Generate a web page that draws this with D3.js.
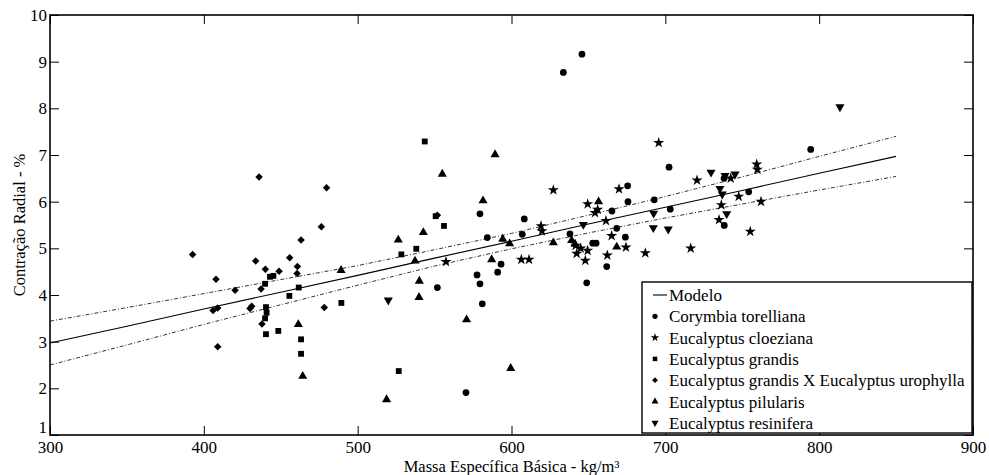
<!DOCTYPE html>
<html>
<head>
<meta charset="utf-8">
<script src="https://cdn.jsdelivr.net/npm/d3@7"></script>
<style>
  html, body { margin: 0; padding: 0; background: #fff; }
  svg { display: block; font-family: "Liberation Serif", "Times New Roman", serif; }
  text { fill: #000; }
</style>
</head>
<body>
<svg id="chart" width="989" height="475"></svg>
<script>
// ---------- data ----------
const xTicks = [300, 400, 500, 600, 700, 800, 900];
const yTicks = [1, 2, 3, 4, 5, 6, 7, 8, 9, 10];
const xTitle = "Massa Específica Básica - kg/m³";
const yTitle = "Contração Radial - %";

const seriesNames = [
  "Corymbia torelliana",
  "Eucalyptus cloeziana",
  "Eucalyptus grandis",
  "Eucalyptus grandis X Eucalyptus urophylla",
  "Eucalyptus pilularis",
  "Eucalyptus resinifera"
];

const corymbia = [[579.5,5.74],[584.3,5.23],[593.2,4.66],[591,4.49],[577.6,4.43],[579.5,4.24],[551.8,4.16],[581,3.81],[570.4,1.91],
  [645.8,9.16],[633.7,8.77],[702.4,6.74],[675.5,6.34],[675.7,6.00],[692.8,6.04],[665.3,5.80],[703.2,5.84],[608.3,5.63],[668.4,5.43],
  [607,5.30],[638,5.31],[674,5.24],[652.8,5.11],[655,5.11],[661.9,4.61],[648.9,4.26],[794.5,7.12],[754.2,6.21],[738.2,6.50],[738.3,5.49]];
const cloeziana = [[557.4,4.71],[695.7,7.26],[627.2,6.25],[669.9,6.27],[649.5,5.95],[656,5.83],[654.3,5.76],[661.4,5.59],[619.2,5.48],
  [619.8,5.37],[665.1,5.27],[674.4,5.02],[645,5.00],[641.7,5.06],[649.5,4.95],[642.4,4.89],[687,4.90],[662.3,4.85],[606.4,4.76],
  [611.4,4.76],[648,4.74],[759.4,6.80],[759.8,6.69],[720.6,6.46],[742.5,6.50],[747.7,6.11],[736.4,5.93],[762.2,6.00],[734.9,5.61],
  [755.2,5.36],[716.5,5.00]];
const grandis = [[443,4.39],[445.2,4.41],[439.8,4.24],[461.7,4.16],[455.6,3.98],[489.4,3.83],[440.4,3.74],[440.8,3.62],[439.8,3.50],
  [440.4,3.16],[448.4,3.23],[463.2,3.05],[463.2,2.74],[543.6,7.29],[550.7,5.69],[556.1,5.48],[538.1,4.99],[528.4,4.87],[526.7,2.37]];
const grandisUrophylla = [[435.9,6.53],[479.8,6.30],[392.7,4.87],[476.4,5.46],[463.2,5.18],[433.7,4.73],[455.8,4.80],[407.9,4.34],
  [440,4.55],[448.9,4.51],[460.8,4.61],[460.6,4.46],[420.3,4.10],[437.2,4.13],[406,3.67],[409,3.72],[430,3.71],[431.1,3.76],
  [437.8,3.38],[478.3,3.73],[409,2.89],[551.8,5.71]];
const pilularis = [[489.2,4.53],[461.4,3.37],[464.3,2.26],[589.3,7.01],[555,6.59],[581.5,6.02],[542.7,5.34],[526.4,5.18],[594.3,5.20],
  [598.8,5.10],[537.3,4.73],[587.1,4.76],[540.1,4.30],[539.9,3.95],[570.8,3.47],[599.5,2.43],[518.8,1.76],[656.6,6.00],[627.2,5.12],
  [639.1,5.17],[641.3,5.09],[668.4,5.03]];
const resinifera = [[519.9,3.89],[646.7,5.51],[692.4,5.75],[692.2,5.44],[701.9,5.41],[813.5,8.03],[729.7,6.63],[738.8,6.56],
  [745.3,6.59],[735.5,6.28],[737,6.16],[739.9,5.74]];

// Model line and confidence band
const bandX     = [300, 350, 400, 450, 500, 550, 600, 650, 700, 750, 800, 850];
const modelY    = [2.97, 3.33, 3.70, 4.06, 4.42, 4.79, 5.15, 5.52, 5.88, 6.24, 6.61, 6.97];
const upperY    = [3.44, 3.73, 4.03, 4.33, 4.63, 4.97, 5.32, 5.71, 6.11, 6.53, 6.97, 7.40];
const lowerY    = [2.50, 2.93, 3.37, 3.79, 4.21, 4.62, 4.99, 5.33, 5.65, 5.95, 6.25, 6.54];

(function draw() {
  const svg = d3.select("#chart");
  const mLeft = 50, mRight = 973, mTop = 15, mBottom = 435;
  const x = d3.scaleLinear().domain([300, 900]).range([mLeft, mRight]);
  const y = d3.scaleLinear().domain([1, 10]).range([mBottom, mTop]);

  // model and band
  const line = d3.line().x(d => x(d[0])).y(d => y(d[1]));
  const zipXY = ys => bandX.map((v, i) => [v, ys[i]]);
  svg.append("path").attr("d", line(zipXY(upperY))).attr("fill", "none")
    .attr("stroke", "#000").attr("stroke-width", 0.8).attr("stroke-dasharray", "4,2,1,2");
  svg.append("path").attr("d", line(zipXY(lowerY))).attr("fill", "none")
    .attr("stroke", "#000").attr("stroke-width", 0.8).attr("stroke-dasharray", "4,2,1,2");
  svg.append("path").attr("d", line(zipXY(modelY))).attr("fill", "none")
    .attr("stroke", "#000").attr("stroke-width", 1.1);

  // symbols
  const diamondType = d3.symbolDiamond2 || d3.symbolDiamond;
  const symbolDefs = [
    { type: d3.symbolCircle, size: 36, rot: 0 },
    { type: d3.symbolStar, size: 38, rot: 0 },
    { type: d3.symbolSquare, size: 34, rot: 0 },
    { type: diamondType, size: 36, rot: 0 },
    { type: d3.symbolTriangle, size: 36, rot: 0 },
    { type: d3.symbolTriangle, size: 36, rot: 180 }
  ];
  const allSeries = [corymbia, cloeziana, grandis, grandisUrophylla, pilularis, resinifera];

  allSeries.forEach((data, i) => {
    const def = symbolDefs[i];
    const sym = d3.symbol().type(def.type).size(def.size);
    svg.append("g").selectAll("path").data(data).join("path")
      .attr("d", sym)
      .attr("transform", d => `translate(${x(d[0])},${y(d[1])}) rotate(${def.rot})`)
      .attr("fill", "#000");
  });

  // axes (inward ticks, MATLAB style)
  const fontSize = 17;
  const gx = svg.append("g").attr("transform", `translate(0,${mBottom})`)
    .call(d3.axisBottom(x).tickValues(xTicks).tickSizeInner(-9).tickSizeOuter(0).tickPadding(6).tickFormat(d3.format("d")));
  const gy = svg.append("g").attr("transform", `translate(${mLeft},0)`)
    .call(d3.axisLeft(y).tickValues(yTicks).tickSizeInner(-9).tickSizeOuter(0).tickPadding(3).tickFormat(d3.format("d")));
  const gt = svg.append("g").attr("transform", `translate(0,${mTop})`)
    .call(d3.axisTop(x).tickValues(xTicks).tickSizeInner(-9).tickSizeOuter(0).tickFormat(""));
  const gr = svg.append("g").attr("transform", `translate(${mRight},0)`)
    .call(d3.axisRight(y).tickValues(yTicks).tickSizeInner(-9).tickSizeOuter(0).tickFormat(""));
  [gx, gy, gt, gr].forEach(g => {
    g.select(".domain").remove();
    g.selectAll("line").attr("stroke", "#000").attr("stroke-width", 1);
    g.selectAll("text").attr("fill", "#000")
      .style("font-family", "'Liberation Serif', 'Times New Roman', serif")
      .style("font-size", fontSize + "px");
  });
  // lift the lowest y label so it sits just above "300" without overlapping it
  gy.selectAll(".tick").filter(d => d === 1).select("text").attr("dy", "-0.12em");

  // frame
  svg.append("rect").attr("x", mLeft).attr("y", mTop)
    .attr("width", mRight - mLeft).attr("height", mBottom - mTop)
    .attr("fill", "none").attr("stroke", "#000").attr("stroke-width", 1.6);

  // axis titles
  svg.append("text").attr("x", (mLeft + mRight) / 2).attr("y", 472)
    .attr("text-anchor", "middle").attr("fill", "#000").style("font-size", "16.5px").text(xTitle);
  svg.append("text").attr("transform", `translate(25,${(mTop + mBottom) / 2}) rotate(-90)`)
    .attr("text-anchor", "middle").attr("fill", "#000").style("font-size", "16.5px").text(yTitle);

  // legend
  const lg = svg.append("g");
  lg.append("rect").attr("x", 642).attr("y", 282).attr("width", 330).attr("height", 151)
    .attr("fill", "#fff").attr("stroke", "#000").attr("stroke-width", 1.4);
  const rowY = i => 295 + i * 21.3;
  lg.append("line").attr("x1", 653).attr("x2", 667).attr("y1", rowY(0)).attr("y2", rowY(0))
    .attr("stroke", "#000").attr("stroke-width", 1.1);
  lg.append("text").attr("x", 669).attr("y", rowY(0) + 6).attr("fill", "#000").style("font-size", "17px").text("Modelo");
  seriesNames.forEach((name, i) => {
    const def = symbolDefs[i];
    lg.append("path").attr("d", d3.symbol().type(def.type).size(def.size * 0.6)())
      .attr("transform", `translate(655,${rowY(i + 1)}) rotate(${def.rot})`).attr("fill", "#000");
    lg.append("text").attr("x", 669).attr("y", rowY(i + 1) + 6).attr("fill", "#000").style("font-size", "17px").text(name);
  });
})();
</script>
</body>
</html>
